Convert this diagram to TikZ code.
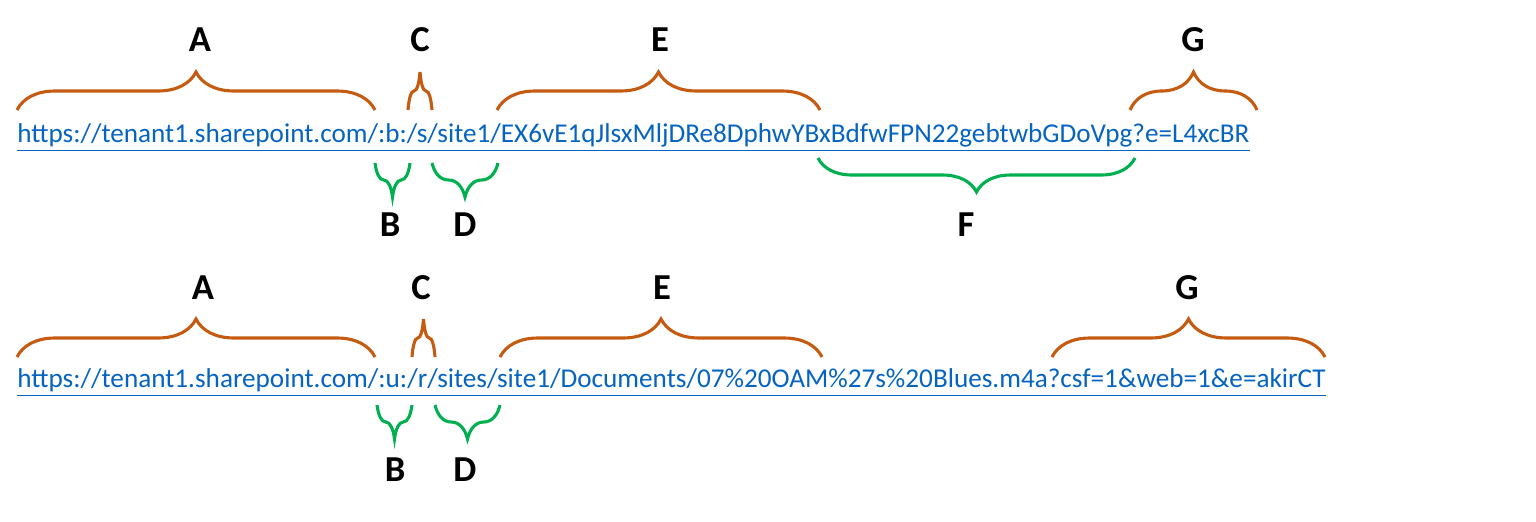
\documentclass[tikz,border=0pt]{standalone}
\usepackage{fontspec}
\setmainfont{Carlito}
\usetikzlibrary{decorations.pathreplacing}
\definecolor{bracetop}{HTML}{C55A11}
\definecolor{bracebot}{HTML}{00B050}
\definecolor{linkblue}{HTML}{0563C1}
\begin{document}
\begin{tikzpicture}[x=0.025cm, y=0.025cm,
up/.style={draw=bracetop, line width=2.2pt, decorate, decoration={brace, amplitude=0.95cm}},
down/.style={draw=bracebot, line width=2.2pt, decorate, decoration={brace, mirror, amplitude=0.85cm}},
letter/.style={font=\fontsize{26}{30}\selectfont\bfseries},
url/.style={anchor=west, inner sep=0pt, text=linkblue}
]
\useasboundingbox (0,0) rectangle (1536,-521);
%Links
\node[url] (u1) at (17,-138) {\resizebox{30.8cm}{!}{\underline{https://tenant1.sharepoint.com/:b:/s/site1/EX6vE1qJlsxMljDRe8DphwYBxBdfwFPN22gebtwbGDoVpg?e=L4xcBR}}};
\node[url] (u2) at (17,-383) {\resizebox{32.7cm}{!}{\underline{https://tenant1.sharepoint.com/:u:/r/sites/site1/Documents/07\%20OAM\%27s\%20Blues.m4a?csf=1\&web=1\&e=akirCT}}};
%Braces, first link
\draw[up] (17,-110) -- (375,-110);
\draw[up] (408,-110) -- (432,-110);
\draw[up] (497,-110) -- (820,-110);
\draw[up] (1130,-110) -- (1257,-110);
\draw[down] (375,-163) -- (410,-163);
\draw[down] (432,-163) -- (498,-163);
\draw[down] (818,-158) -- (1135,-158);
%Braces, second link
\draw[up] (17,-357) -- (375,-357);
\draw[up] (412,-357) -- (435,-357);
\draw[up] (500,-357) -- (822,-357);
\draw[up] (1052,-357) -- (1325,-357);
\draw[down] (377,-405) -- (412,-405);
\draw[down] (435,-405) -- (500,-405);
%Labels
\node[letter] (a1) at (200,-40) {A};
\node[letter] (c1) at (420,-40) {C};
\node[letter] (e1) at (660,-40) {E};
\node[letter] (g1) at (1193,-40) {G};
\node[letter] (b1) at (390,-225) {B};
\node[letter] (d1) at (465,-225) {D};
\node[letter] (f1) at (966,-225) {F};
\node[letter] (a2) at (203,-288) {A};
\node[letter] (c2) at (421,-288) {C};
\node[letter] (e2) at (662,-288) {E};
\node[letter] (g2) at (1187,-288) {G};
\node[letter] (b2) at (395,-470) {B};
\node[letter] (d2) at (465,-470) {D};
\end{tikzpicture}
\end{document}
